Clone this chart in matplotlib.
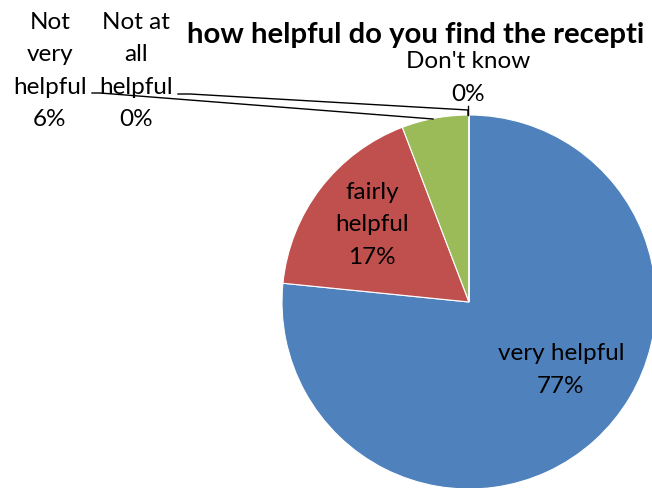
import matplotlib.pyplot as plt

# data
labels = ["very helpful", "fairly\nhelpful", "Not\nvery\nhelpful", "Not at\nall\nhelpful", "Don't know"]
values = [76.6, 17.6, 5.8, 0.0, 0.0]
pct_text = ["77%", "17%", "6%", "0%", "0%"]
colors = ["#4F81BD", "#C0504D", "#9BBB59", "#8064A2", "#4BACC6"]
title = "how helpful do you find the recepti"  # the part visible in the reference

W, H = 652, 489
plt.rcParams['font.family'] = ['Lato', 'DejaVu Sans']

fig = plt.figure(figsize=(W / 100, H / 100), dpi=100)
ax = fig.add_axes([0, 0, 1, 1])

cx, cy, r = 469, H - 303, 187
ax.pie(values, colors=colors, startangle=90, counterclock=False,
       center=(cx, cy), radius=r, frame=True,
       wedgeprops=dict(edgecolor='white', linewidth=0.8))
ax.set_xlim(0, W)
ax.set_ylim(0, H)
ax.set_aspect('auto')
ax.axis('off')

fs = 17.5
# label positions (pixel coords, top-left origin)
pos = [(561, 370), (372, 225), (50, 71), (136, 71), (468, 78)]
for lab, pct, (x, y) in zip(labels, pct_text, pos):
    ax.text(x, H - y, lab + "\n" + pct, ha='center', va='center',
            fontsize=fs, linespacing=1.65, color='black')

# leader lines
ax.plot([92, 100, 433], [H - 94, H - 94, H - 120], color='black', lw=1)
ax.plot([178, 190, 468, 468], [H - 95, H - 95, H - 111, H - 116], color='black', lw=1)
ax.plot([468, 468], [H - 107, H - 116], color='black', lw=1)

ax.text(187, H - 43, title, ha='left', va='baseline',
        fontsize=21.1, fontweight='bold')

fig.savefig('out.png', dpi=100)
